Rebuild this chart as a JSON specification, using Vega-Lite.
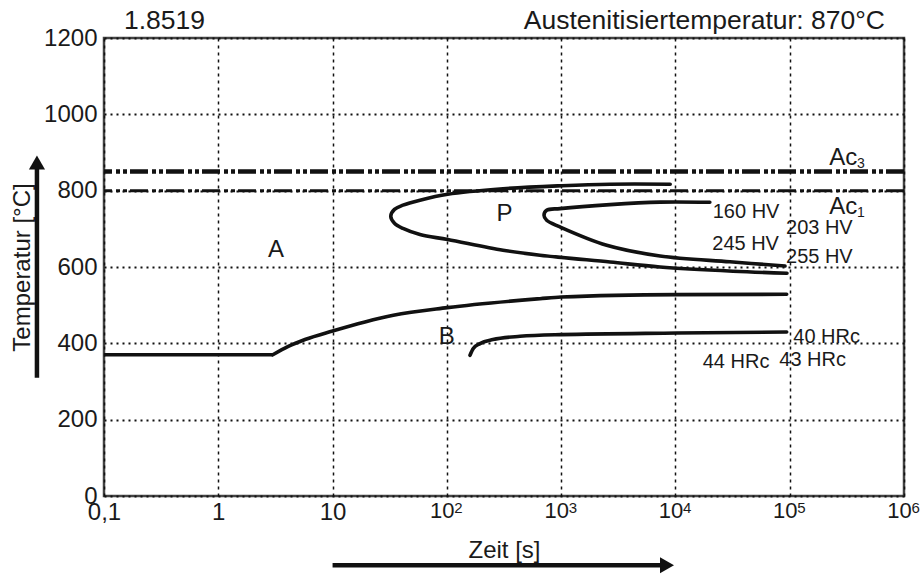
{
  "$schema": "https://vega.github.io/schema/vega-lite/v6.json",
  "width": 800,
  "height": 458,
  "autosize": {"type": "none"},
  "padding": {"left": 104, "top": 38, "right": 19, "bottom": 80},
  "background": "white",
  "config": {
    "view": {"stroke": "#444444", "strokeWidth": 2.5},
    "font": "Liberation Sans"
  },
  "datasets": {
    "pearlite": [
      {"c": "Ps", "i": 1, "t": 9000, "T": 817},
      {"c": "Ps", "i": 2, "t": 2676, "T": 817},
      {"c": "Ps", "i": 3, "t": 1011, "T": 813},
      {"c": "Ps", "i": 4, "t": 310, "T": 805},
      {"c": "Ps", "i": 5, "t": 101.7, "T": 790.5},
      {"c": "Ps", "i": 6, "t": 58.2, "T": 775},
      {"c": "Ps", "i": 7, "t": 41.3, "T": 762},
      {"c": "Ps", "i": 8, "t": 34.8, "T": 751},
      {"c": "Ps", "i": 9, "t": 32.3, "T": 733},
      {"c": "Ps", "i": 10, "t": 34.8, "T": 714.5},
      {"c": "Ps", "i": 11, "t": 41.3, "T": 701},
      {"c": "Ps", "i": 12, "t": 58.2, "T": 685},
      {"c": "Ps", "i": 13, "t": 101.7, "T": 672},
      {"c": "Ps", "i": 14, "t": 310, "T": 644},
      {"c": "Ps", "i": 15, "t": 653, "T": 631},
      {"c": "Ps", "i": 16, "t": 2676, "T": 613},
      {"c": "Ps", "i": 17, "t": 7328, "T": 600},
      {"c": "Ps", "i": 18, "t": 31900, "T": 589},
      {"c": "Ps", "i": 19, "t": 94650, "T": 583.5},
      {"c": "Pf", "i": 1, "t": 20000, "T": 769.5},
      {"c": "Pf", "i": 2, "t": 7328, "T": 770},
      {"c": "Pf", "i": 3, "t": 2676, "T": 763.5},
      {"c": "Pf", "i": 4, "t": 977, "T": 753},
      {"c": "Pf", "i": 5, "t": 747, "T": 748.6},
      {"c": "Pf", "i": 6, "t": 708, "T": 735.5},
      {"c": "Pf", "i": 7, "t": 747, "T": 722.4},
      {"c": "Pf", "i": 8, "t": 977, "T": 705},
      {"c": "Pf", "i": 9, "t": 2503, "T": 657},
      {"c": "Pf", "i": 10, "t": 7328, "T": 629},
      {"c": "Pf", "i": 11, "t": 30000, "T": 613.6},
      {"c": "Pf", "i": 12, "t": 90950, "T": 602.6}
    ],
    "bainiteflat": [
      {"c": "Bs0", "i": 1, "t": 0.1, "T": 370},
      {"c": "Bs0", "i": 2, "t": 3, "T": 370}
    ],
    "bainite": [
      {"c": "Bs", "i": 1, "t": 3, "T": 370},
      {"c": "Bs", "i": 2, "t": 4.1, "T": 392},
      {"c": "Bs", "i": 3, "t": 5.74, "T": 410},
      {"c": "Bs", "i": 4, "t": 10, "T": 432.3},
      {"c": "Bs", "i": 5, "t": 19.2, "T": 456},
      {"c": "Bs", "i": 6, "t": 34, "T": 473.5},
      {"c": "Bs", "i": 7, "t": 100.9, "T": 493.6},
      {"c": "Bs", "i": 8, "t": 653, "T": 517},
      {"c": "Bs", "i": 9, "t": 1000, "T": 521.4},
      {"c": "Bs", "i": 10, "t": 10300, "T": 527.7},
      {"c": "Bs", "i": 11, "t": 94100, "T": 528.5},
      {"c": "Bf", "i": 1, "t": 159.4, "T": 368.6},
      {"c": "Bf", "i": 2, "t": 170.3, "T": 386.2},
      {"c": "Bf", "i": 3, "t": 195, "T": 399.3},
      {"c": "Bf", "i": 4, "t": 253, "T": 409.8},
      {"c": "Bf", "i": 5, "t": 436.5, "T": 418.4},
      {"c": "Bf", "i": 6, "t": 1000, "T": 422.9},
      {"c": "Bf", "i": 7, "t": 10300, "T": 427},
      {"c": "Bf", "i": 8, "t": 94100, "T": 429.7}
    ],
    "ac": [
      {"line": "Ac3", "T": 850},
      {"line": "Ac1", "T": 800}
    ],
    "regions": [
      {"t": 3.2, "T": 625, "txt": "A"},
      {"t": 320, "T": 720.5, "txt": "P"},
      {"t": 100, "T": 399.3, "txt": "B"}
    ],
    "hardness": [
      {"t": 21200, "T": 728, "txt": "160 HV"},
      {"t": 92800, "T": 685.7, "txt": "203 HV"},
      {"t": 21000, "T": 643.8, "txt": "245 HV"},
      {"t": 92800, "T": 610.5, "txt": "255 HV"},
      {"t": 107500, "T": 401.9, "txt": "40 HRc"},
      {"t": 17320, "T": 335.4, "txt": "44 HRc"},
      {"t": 81100, "T": 341.6, "txt": "43 HRc"}
    ],
    "actext": [
      {"t": 222000, "T": 866.5, "txt": "Ac"},
      {"t": 222000, "T": 738, "txt": "Ac"}
    ],
    "acsub": [
      {"t": 388000, "T": 858.6, "txt": "3"},
      {"t": 388000, "T": 730.2, "txt": "1"}
    ],
    "exponents": [
      {"t": 116.3, "T": -45.3, "txt": "2"},
      {"t": 1163, "T": -45.3, "txt": "3"},
      {"t": 11630, "T": -45.3, "txt": "4"},
      {"t": 116300, "T": -45.3, "txt": "5"},
      {"t": 1163000, "T": -45.3, "txt": "6"}
    ],
    "headleft": [{"t": 0.1496, "T": 1222.8, "txt": "1.8519"}],
    "headright": [{"t": 682000, "T": 1222.8, "txt": "Austenitisiertemperatur: 870°C"}],
    "xarrow": [{"t0": 10, "t1": 8440, "T": -181.6}],
    "yarrow": [{"t": 0.0259, "T0": 310, "T1": 874}]
  },
  "layer": [
    {
      "data": {"name": "pearlite"},
      "mark": {"type": "line", "interpolate": "catmull-rom", "color": "#111111", "strokeWidth": 3.6, "strokeCap": "round"},
      "encoding": {
        "x": {
          "field": "t", "type": "quantitative",
          "scale": {"type": "log", "domain": [0.1, 1000000], "nice": false},
          "axis": {
            "title": "Zeit [s]",
            "values": [0.1, 1, 10, 100, 1000, 10000, 100000, 1000000],
            "labelExpr": "datum.value < 0.5 ? '0,1' : datum.value < 5 ? '1' : '10'",
            "labelOffset": {"condition": {"test": "datum.value > 50", "value": -5}, "value": 0},
            "labelFontSize": {"condition": {"test": "datum.value > 50", "value": 22}, "value": 24},
            "grid": true, "gridDash": [3, 4], "gridWidth": 1.5, "gridColor": "#111111",
            "ticks": false, "domain": false,
            "labelPadding": 4, "labelFlush": false, "labelOverlap": false,
            "labelColor": "#1a1a1a",
            "titleFontSize": 24, "titleFontWeight": "normal", "titleColor": "#1a1a1a",
            "titleX": 400, "titleY": 61, "titleBaseline": "alphabetic", "titleAlign": "center"
          }
        },
        "y": {
          "field": "T", "type": "quantitative",
          "scale": {"domain": [0, 1200], "nice": false, "zero": false},
          "axis": {
            "title": "Temperatur [°C]",
            "values": [0, 100, 200, 300, 400, 500, 600, 700, 800, 900, 1000, 1100, 1200],
            "format": "d",
            "labelExpr": "datum.value % 200 === 0 ? datum.label : ''",
            "grid": true,
            "gridDash": {"condition": {"test": "datum.value % 200 === 0", "value": [2, 4]}, "value": [2.5, 4]},
            "gridWidth": {"condition": {"test": "datum.value % 200 === 0", "value": 2}, "value": 1.2},
            "gridColor": "#111111",
            "ticks": false, "domain": false,
            "labelFontSize": 24, "labelPadding": 7, "labelColor": "#1a1a1a",
            "titleFontSize": 24, "titleFontWeight": "normal", "titleColor": "#1a1a1a",
            "titleX": -82, "titleY": 229, "titleAngle": -90, "titleBaseline": "middle", "titleAlign": "center"
          }
        },
        "detail": {"field": "c", "type": "nominal"},
        "order": {"field": "i", "type": "quantitative"}
      }
    },
    {
      "data": {"name": "ac"},
      "mark": {"type": "rule", "color": "#111111", "strokeDash": [18, 3, 4, 3, 4, 4]},
      "encoding": {
        "y": {"field": "T", "type": "quantitative"},
        "strokeWidth": {"field": "line", "type": "nominal", "scale": {"domain": ["Ac3", "Ac1"], "range": [4.5, 3]}, "legend": null}
      }
    },
    {
      "data": {"name": "bainiteflat"},
      "mark": {"type": "line", "interpolate": "linear", "color": "#111111", "strokeWidth": 3.6, "strokeCap": "butt"},
      "encoding": {
        "x": {"field": "t", "type": "quantitative"},
        "y": {"field": "T", "type": "quantitative"},
        "order": {"field": "i", "type": "quantitative"}
      }
    },
    {
      "data": {"name": "bainite"},
      "mark": {"type": "line", "interpolate": "monotone", "color": "#111111", "strokeWidth": 3.6, "strokeCap": "round"},
      "encoding": {
        "x": {"field": "t", "type": "quantitative"},
        "y": {"field": "T", "type": "quantitative"},
        "detail": {"field": "c", "type": "nominal"},
        "order": {"field": "i", "type": "quantitative"}
      }
    },
    {
      "data": {"name": "regions"},
      "mark": {"type": "text", "align": "center", "baseline": "alphabetic", "fontSize": 24, "color": "#1a1a1a"},
      "encoding": {
        "x": {"field": "t", "type": "quantitative"},
        "y": {"field": "T", "type": "quantitative"},
        "text": {"field": "txt"}
      }
    },
    {
      "data": {"name": "hardness"},
      "mark": {"type": "text", "align": "left", "baseline": "alphabetic", "fontSize": 20, "color": "#1a1a1a"},
      "encoding": {
        "x": {"field": "t", "type": "quantitative"},
        "y": {"field": "T", "type": "quantitative"},
        "text": {"field": "txt"}
      }
    },
    {
      "data": {"name": "actext"},
      "mark": {"type": "text", "align": "left", "baseline": "alphabetic", "fontSize": 24, "color": "#1a1a1a"},
      "encoding": {
        "x": {"field": "t", "type": "quantitative"},
        "y": {"field": "T", "type": "quantitative"},
        "text": {"field": "txt"}
      }
    },
    {
      "data": {"name": "acsub"},
      "mark": {"type": "text", "align": "left", "baseline": "alphabetic", "fontSize": 14, "color": "#1a1a1a"},
      "encoding": {
        "x": {"field": "t", "type": "quantitative"},
        "y": {"field": "T", "type": "quantitative"},
        "text": {"field": "txt"}
      }
    },
    {
      "data": {"name": "exponents"},
      "mark": {"type": "text", "align": "left", "baseline": "alphabetic", "fontSize": 15, "color": "#1a1a1a"},
      "encoding": {
        "x": {"field": "t", "type": "quantitative"},
        "y": {"field": "T", "type": "quantitative"},
        "text": {"field": "txt"}
      }
    },
    {
      "data": {"name": "headleft"},
      "mark": {"type": "text", "align": "left", "baseline": "alphabetic", "fontSize": 26.5, "color": "#1a1a1a"},
      "encoding": {
        "x": {"field": "t", "type": "quantitative"},
        "y": {"field": "T", "type": "quantitative"},
        "text": {"field": "txt"}
      }
    },
    {
      "data": {"name": "headright"},
      "mark": {"type": "text", "align": "right", "baseline": "alphabetic", "fontSize": 26.5, "color": "#1a1a1a"},
      "encoding": {
        "x": {"field": "t", "type": "quantitative"},
        "y": {"field": "T", "type": "quantitative"},
        "text": {"field": "txt"}
      }
    },
    {
      "data": {"name": "xarrow"},
      "mark": {"type": "rule", "color": "#111111", "strokeWidth": 4.5},
      "encoding": {
        "x": {"field": "t0", "type": "quantitative"},
        "x2": {"field": "t1"},
        "y": {"field": "T", "type": "quantitative"}
      }
    },
    {
      "data": {"name": "xarrow"},
      "mark": {"type": "point", "shape": "triangle-right", "filled": true, "size": 260, "color": "#111111", "opacity": 1},
      "encoding": {
        "x": {"field": "t1", "type": "quantitative"},
        "y": {"field": "T", "type": "quantitative"}
      }
    },
    {
      "data": {"name": "yarrow"},
      "mark": {"type": "rule", "color": "#111111", "strokeWidth": 4.5},
      "encoding": {
        "x": {"field": "t", "type": "quantitative"},
        "y": {"field": "T0", "type": "quantitative"},
        "y2": {"field": "T1"}
      }
    },
    {
      "data": {"name": "yarrow"},
      "mark": {"type": "point", "shape": "triangle-up", "filled": true, "size": 260, "color": "#111111", "opacity": 1},
      "encoding": {
        "x": {"field": "t", "type": "quantitative"},
        "y": {"field": "T1", "type": "quantitative"}
      }
    }
  ]
}
